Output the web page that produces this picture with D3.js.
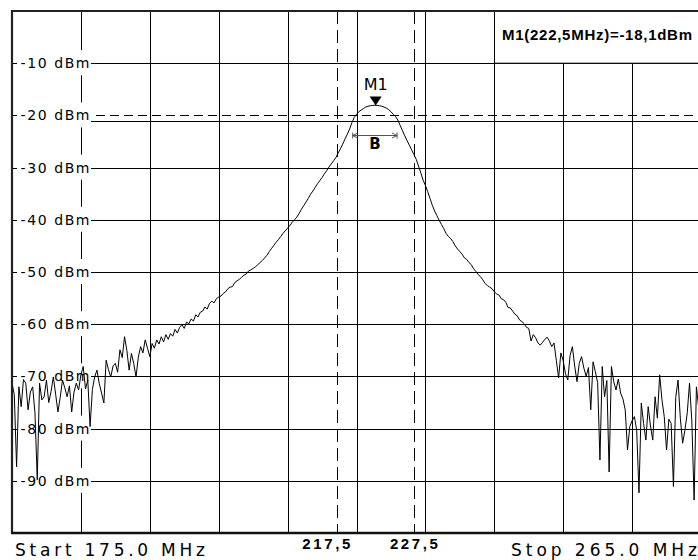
<!DOCTYPE html>
<html>
<head>
<meta charset="utf-8">
<script src="https://cdn.jsdelivr.net/npm/d3@7"></script>
<style>
  body { margin: 0; background: #fff; }
  svg { display: block; }
</style>
</head>
<body>
<svg id="chart" width="698" height="560"></svg>
<script>
/*
Spectrum trace, 175 - 265 MHz, marker M1 and bandwidth B
*/

// Sweep
var startFreq = 175.0;
var stopFreq = 265.0;
var refLevel = 0;
var bottomLevel = -100;

// Grid
var freqTicks = [175, 184, 193, 202, 211, 220, 229, 238, 247, 256, 265];
var levelTicks = [-10, -20, -30, -40, -50, -60, -70, -80, -90];
var levelLabels = ["-10 dBm", "-20 dBm", "-30 dBm", "-40 dBm", "-50 dBm", "-60 dBm", "-70 dBm", "-80 dBm", "-90 dBm"];

// Display line and vertical lines
var displayLine = -20;
var freqLines = [217.5, 227.5];
var freqLineLabels = ["217,5", "227,5"];

// Marker
var markerName = "M1";
var markerFreq = 222.5;
var markerLevel = -18.1;
var markerText = "M1(222,5MHz)=-18,1dBm";
var bwLevel = -21.1;      // marker - 3 dB
var bwLeft = 219.5;
var bwRight = 225.3;
var bwLabel = "B";

// Trace levels (dBm), one per sweep point from start to stop (0.3 MHz apart)
var trace = [
  -71.3, -73.5, -87.3, -72.0, -75.8, -70.6, -71.3, -76.4, -73.0, -72.0,
  -77.0, -89.8, -71.3, -74.5, -73.9, -70.7, -75.0, -72.9, -70.1, -73.4,
  -76.8, -74.0, -70.7, -72.2, -73.9, -71.8, -76.8, -73.0, -71.3, -72.6,
  -69.7, -68.1, -72.4, -70.7, -79.6, -72.5, -70.1, -68.8, -71.4, -73.2,
  -75.1, -66.9, -68.7, -70.1, -68.0, -67.5, -69.2, -64.9, -66.4, -62.4,
  -65.0, -68.8, -65.6, -67.5, -70.1, -66.3, -64.3, -65.5, -63.0, -64.6,
  -66.2, -63.7, -64.6, -63.0, -63.8, -62.4, -63.4, -62.0, -62.9, -61.8,
  -62.3, -61.0, -61.7, -60.6, -60.1, -60.8, -59.6, -59.9, -59.0, -59.4,
  -58.2, -58.6, -57.7, -57.5, -56.7, -57.1, -56.0, -55.6, -55.9, -55.1,
  -54.8, -54.6, -54.1, -53.8, -53.2, -52.9, -52.8, -52.0, -51.7, -51.4,
  -51.0, -50.6, -50.4, -49.8, -49.6, -49.3, -49.0, -48.6, -48.2, -47.8,
  -47.3, -46.8, -46.1, -45.5, -44.9, -44.3, -43.8, -43.2, -42.6, -42.1,
  -41.6, -41.1, -40.5, -40.0, -39.5, -38.8, -38.0, -37.3, -36.6, -35.9,
  -35.1, -34.5, -33.8, -33.1, -32.5, -31.9, -31.2, -30.6, -29.9, -29.3,
  -28.7, -28.1, -27.2, -26.4, -25.5, -24.5, -23.6, -22.6, -21.4, -20.4,
  -19.8, -19.3, -19.0, -18.7, -18.4, -18.25, -18.15, -18.1, -18.05, -18.1,
  -18.15, -18.25, -18.4, -18.6, -18.9, -19.3, -19.8, -20.2, -20.9, -21.9,
  -22.9, -23.9, -24.8, -25.7, -26.6, -27.5, -28.4, -29.7, -31.0, -32.4,
  -33.4, -34.6, -35.9, -37.2, -38.3, -39.2, -40.1, -40.9, -41.7, -42.6,
  -43.2, -43.6, -44.2, -45.0, -45.6, -46.1, -46.6, -47.3, -47.6, -48.2,
  -48.6, -49.4, -49.9, -50.5, -50.9, -51.5, -52.2, -52.6, -52.9, -53.2,
  -53.8, -54.2, -54.4, -55.1, -55.3, -55.8, -56.8, -56.9, -57.5, -58.1,
  -58.4, -59.2, -59.5, -59.9, -60.6, -60.8, -63.2, -62.0, -62.6, -63.6,
  -64.0, -63.5, -62.9, -62.5, -63.2, -64.3, -63.6, -66.9, -70.3, -65.5,
  -67.0, -69.5, -70.7, -66.0, -64.3, -68.0, -71.0, -67.5, -66.2, -68.4,
  -70.0, -68.3, -76.4, -67.2, -69.1, -71.2, -86.0, -68.1, -73.9, -70.8,
  -88.3, -68.1, -71.0, -72.6, -70.5, -73.2, -74.3, -76.4, -84.1, -79.6,
  -78.5, -77.7, -80.3, -92.3, -75.1, -79.0, -82.2, -75.8, -79.5, -82.2,
  -73.9, -78.0, -69.7, -74.5, -77.7, -84.1, -78.2, -79.0, -91.1, -74.0,
  -70.7, -78.0, -82.8, -80.3, -77.0, -71.3, -78.5, -93.7, -72.0, -76.0,
  -79.0
];

// Plot area
var _o = {
  "x0": 12,
  "y0": 11,
  "x1": 701,
  "y1": 533
};

var svg = d3.select("#chart");

var x = d3.scaleLinear()
  .domain([startFreq, stopFreq])
  .range([_o.x0, _o.x1])
  ;

var y = d3.scaleLinear()
  .domain([refLevel, bottomLevel])
  .range([_o.y0, _o.y1])
  ;

var step = (stopFreq - startFreq) / (trace.length - 1);
var points = trace.map(function(v, i) {
  return { f: startFreq + i * step, v: v };
});

// Clip to screen
svg.append("defs").append("clipPath")
  .attr("id", "plot-clip")
  .append("rect")
  .attr("x", _o.x0)
  .attr("y", _o.y0)
  .attr("width", _o.x1 - _o.x0)
  .attr("height", _o.y1 - _o.y0)
  ;

var grid = svg.append("g").attr("class", "grid");

// Vertical grid lines
grid.selectAll("line.vgrid")
  .data(freqTicks.slice(1, -1))
  .enter().append("line")
  .attr("class", "vgrid")
  .attr("x1", function(d) { return Math.round(x(d)) + 0.5; })
  .attr("x2", function(d) { return Math.round(x(d)) + 0.5; })
  .attr("y1", _o.y0)
  .attr("y2", _o.y1)
  .style("stroke", "#000")
  .style("stroke-width", 1)
  ;

// Horizontal grid lines (display line is dashed)
grid.selectAll("line.hgrid")
  .data(levelTicks)
  .enter().append("line")
  .attr("class", "hgrid")
  .attr("x1", _o.x0)
  .attr("x2", _o.x1)
  .attr("y1", function(d) { return Math.round(y(d)) + 0.5; })
  .attr("y2", function(d) { return Math.round(y(d)) + 0.5; })
  .style("stroke", "#000")
  .style("stroke-width", 1)
  .style("stroke-dasharray", function(d) { return d == displayLine ? "9,5" : null; })
  ;

// Bandwidth level line
grid.append("line")
  .attr("x1", x(startFreq + 9) - 1)
  .attr("x2", _o.x1)
  .attr("y1", Math.round(y(bwLevel)) + 0.5)
  .attr("y2", Math.round(y(bwLevel)) + 0.5)
  .style("stroke", "#000")
  .style("stroke-width", 1)
  ;

// Frequency lines
grid.selectAll("line.fline")
  .data(freqLines)
  .enter().append("line")
  .attr("class", "fline")
  .attr("x1", function(d) { return Math.round(x(d)) + 0.5; })
  .attr("x2", function(d) { return Math.round(x(d)) + 0.5; })
  .attr("y1", _o.y0)
  .attr("y2", _o.y1)
  .style("stroke", "#000")
  .style("stroke-width", 1)
  .style("stroke-dasharray", "13,6")
  ;

// Marker readout box
svg.append("rect")
  .attr("x", Math.round(x(freqTicks[7])) + 0.5)
  .attr("y", _o.y0)
  .attr("width", _o.x1 - x(freqTicks[7]))
  .attr("height", y(levelTicks[0]) - _o.y0)
  .style("fill", "#fff")
  .style("stroke", "#000")
  .style("stroke-width", 1)
  ;

svg.append("text")
  .attr("x", 502)
  .attr("y", 40)
  .attr("textLength", 190)
  .attr("lengthAdjust", "spacing")
  .style("font-family", "'Liberation Sans', Arial, sans-serif")
  .style("font-weight", "bold")
  .style("font-size", "15px")
  .style("fill", "#000")
  .text(markerText)
  ;

// Level labels
var labels = svg.append("g").attr("class", "labels");

labels.selectAll("rect")
  .data(levelTicks)
  .enter().append("rect")
  .attr("x", 17)
  .attr("y", function(d) { return y(d) - 13; })
  .attr("width", 74)
  .attr("height", 25)
  .style("fill", "#fff")
  ;

labels.selectAll("text")
  .data(levelTicks)
  .enter().append("text")
  .attr("x", 20.5)
  .attr("y", function(d) { return y(d) + 5; })
  .attr("textLength", 69)
  .attr("lengthAdjust", "spacing")
  .style("font-family", "'DejaVu Sans', Verdana, sans-serif")
  .style("font-size", "14px")
  .style("fill", "#000")
  .text(function(d, i) { return levelLabels[i]; })
  ;

// Trace
var line = d3.line()
  .x(function(d) { return x(d.f); })
  .y(function(d) { return y(d.v); })
  ;

svg.append("path")
  .datum(points)
  .attr("clip-path", "url(#plot-clip)")
  .attr("d", line)
  .style("fill", "none")
  .style("stroke", "#000")
  .style("stroke-width", 1)
  ;

// Marker
var mx = x(markerFreq);
var my = y(markerLevel);

svg.append("path")
  .attr("d", "M" + (mx - 6) + "," + (my - 9) + "L" + (mx + 6) + "," + (my - 9) + "L" + mx + "," + my + "Z")
  .style("fill", "#000")
  ;

svg.append("text")
  .attr("x", mx)
  .attr("y", my - 15)
  .attr("text-anchor", "middle")
  .style("font-family", "'DejaVu Sans', Verdana, sans-serif")
  .style("font-size", "16px")
  .style("fill", "#000")
  .text(markerName)
  ;

// Bandwidth arrow
var bw = svg.append("g")
  .style("stroke", "#555")
  .style("stroke-width", 1)
  .style("fill", "none")
  ;
var by = 135.5;
var bx0 = x(bwLeft);
var bx1 = x(bwRight);

bw.append("line")
  .attr("x1", bx0).attr("x2", bx1)
  .attr("y1", by).attr("y2", by)
  ;
bw.append("line")
  .attr("x1", bx0).attr("x2", bx0)
  .attr("y1", by - 3).attr("y2", by + 3)
  ;
bw.append("line")
  .attr("x1", bx1).attr("x2", bx1)
  .attr("y1", by - 3).attr("y2", by + 3)
  ;
bw.append("path")
  .attr("d", "M" + (bx0 + 5) + "," + (by - 2.5) + "L" + bx0 + "," + by + "L" + (bx0 + 5) + "," + (by + 2.5))
  ;
bw.append("path")
  .attr("d", "M" + (bx1 - 5) + "," + (by - 2.5) + "L" + bx1 + "," + by + "L" + (bx1 - 5) + "," + (by + 2.5))
  ;

svg.append("text")
  .attr("x", (bx0 + bx1) / 2)
  .attr("y", 149)
  .attr("text-anchor", "middle")
  .style("font-family", "'DejaVu Sans', Verdana, sans-serif")
  .style("font-weight", "bold")
  .style("font-size", "15px")
  .style("fill", "#000")
  .text(bwLabel)
  ;

// Frame
svg.append("path")
  .attr("d", "M" + (_o.x1 + 2) + "," + _o.y0 + "L" + _o.x0 + "," + _o.y0 + "L" + _o.x0 + "," + _o.y1)
  .style("fill", "none")
  .style("stroke", "#222")
  .style("stroke-width", 2.2)
  ;
svg.append("line")
  .attr("x1", _o.x0 - 1)
  .attr("x2", _o.x1 + 2)
  .attr("y1", _o.y1)
  .attr("y2", _o.y1)
  .style("stroke", "#111")
  .style("stroke-width", 2.6)
  ;

// Bottom annotations
svg.append("text")
  .attr("x", 15)
  .attr("y", 556)
  .attr("textLength", 190)
  .attr("lengthAdjust", "spacing")
  .style("font-family", "'DejaVu Sans', Verdana, sans-serif")
  .style("font-size", "17px")
  .style("fill", "#000")
  .text("Start " + startFreq.toFixed(1) + " MHz")
  ;

svg.append("text")
  .attr("x", 511)
  .attr("y", 556)
  .attr("textLength", 186)
  .attr("lengthAdjust", "spacing")
  .style("font-family", "'DejaVu Sans', Verdana, sans-serif")
  .style("font-size", "17px")
  .style("fill", "#000")
  .text("Stop " + stopFreq.toFixed(1) + " MHz")
  ;

var flabelX = [x(freqLines[0]) - 11, x(freqLines[1])];
svg.selectAll("text.flabel")
  .data(freqLineLabels)
  .enter().append("text")
  .attr("class", "flabel")
  .attr("x", function(d, i) { return flabelX[i]; })
  .attr("y", 549)
  .attr("text-anchor", "middle")
  .attr("textLength", 48)
  .attr("lengthAdjust", "spacing")
  .style("font-family", "'Liberation Sans', Arial, sans-serif")
  .style("font-weight", "bold")
  .style("font-size", "15px")
  .style("fill", "#000")
  .text(function(d) { return d; })
  ;
</script>
</body>
</html>
